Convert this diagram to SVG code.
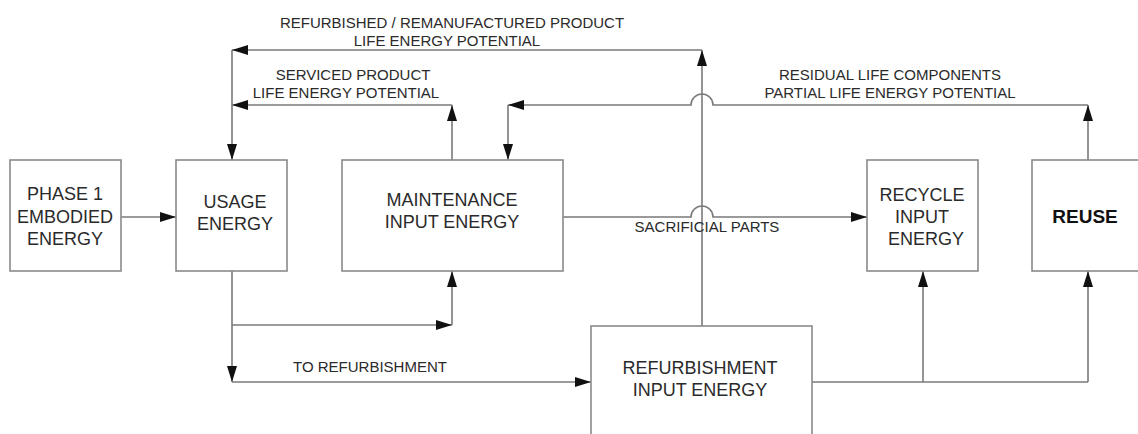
<svg xmlns="http://www.w3.org/2000/svg" width="1138" height="434" viewBox="0 0 1138 434">
  <style>
    .box { fill: #ffffff; stroke: #8a8a8a; stroke-width: 1.6; }
    .lbl { font-family: "Liberation Sans", Arial, sans-serif; font-size: 18px; fill: #2a2a2a; text-anchor: middle; }
    .bold { font-weight: bold; fill: #111111; font-size: 19px; }
    .note { font-family: "Liberation Sans", Arial, sans-serif; font-size: 15px; fill: #2a2a2a; text-anchor: middle; }
    .wire { fill: none; stroke: #7a7a7a; stroke-width: 1.6; }
    .arr { marker-end: url(#head); }
  </style>
  <defs>
    <marker id="head" markerUnits="userSpaceOnUse" markerWidth="16" markerHeight="10" refX="16" refY="5" orient="auto">
      <path d="M0,0 L16,5 L0,10 Z" fill="#111111"/>
    </marker>
  </defs>
  <rect width="1138" height="434" fill="#ffffff"/>

  <!-- connectors -->
  <g id="connectors">
    <!-- phase 1 into usage -->
    <path class="wire arr" d="M121,217 H176"/>
    <!-- usage down towards refurbishment -->
    <path class="wire arr" d="M232,271 V382"/>
    <path class="wire arr" d="M232,382 H591"/>
    <!-- usage branch into maintenance -->
    <path class="wire arr" d="M232,325 H452"/>
    <path class="wire arr" d="M452,325 V271"/>
    <!-- serviced product loop -->
    <path class="wire arr" d="M452,160 V105"/>
    <path class="wire arr" d="M452,105 H232"/>
    <!-- feedback into usage -->
    <path class="wire arr" d="M232,50 V160"/>
    <!-- refurbished / remanufactured loop -->
    <path class="wire arr" d="M702,326 V50"/>
    <path class="wire arr" d="M702,50 H232"/>
    <!-- residual life components loop, hopping the refurbishment riser -->
    <path class="wire arr" d="M1088,160 V105"/>
    <path class="wire arr" d="M1088,105 H713 A11,11 0 0 0 691,105 H508"/>
    <path class="wire arr" d="M508,105 V160"/>
    <!-- sacrificial parts, hopping the refurbishment riser -->
    <path class="wire arr" d="M563,217 H691 A11,11 0 0 1 713,217 H867"/>
    <!-- refurbishment outputs -->
    <path class="wire" d="M812,382 H1088"/>
    <path class="wire arr" d="M923,382 V271"/>
    <path class="wire arr" d="M1088,382 V271"/>
  </g>

  <!-- connector labels -->
  <g id="labels">
    <text class="note" x="452" y="28">REFURBISHED / REMANUFACTURED PRODUCT</text>
    <text class="note" x="447" y="46">LIFE ENERGY POTENTIAL</text>
    <text class="note" x="353" y="80">SERVICED PRODUCT</text>
    <text class="note" x="346" y="98">LIFE ENERGY POTENTIAL</text>
    <text class="note" x="890" y="80">RESIDUAL LIFE COMPONENTS</text>
    <text class="note" x="890" y="98">PARTIAL LIFE ENERGY POTENTIAL</text>
    <text class="note" x="707" y="232">SACRIFICIAL PARTS</text>
    <text class="note" x="370" y="372">TO REFURBISHMENT</text>
  </g>

  <g id="phase1">
    <rect class="box" x="10" y="160" width="111" height="111"/>
    <text class="lbl" x="65" y="200">PHASE 1</text>
    <text class="lbl" x="65" y="223">EMBODIED</text>
    <text class="lbl" x="65" y="245">ENERGY</text>
  </g>

  <g id="usage">
    <rect class="box" x="176" y="160" width="111" height="111"/>
    <text class="lbl" x="235" y="208">USAGE</text>
    <text class="lbl" x="235" y="230">ENERGY</text>
  </g>

  <g id="maintenance">
    <rect class="box" x="342" y="160" width="221" height="111"/>
    <text class="lbl" x="452" y="206">MAINTENANCE</text>
    <text class="lbl" x="452" y="228">INPUT ENERGY</text>
  </g>

  <g id="recycle">
    <rect class="box" x="867" y="160" width="111" height="111"/>
    <text class="lbl" x="922" y="201">RECYCLE</text>
    <text class="lbl" x="922" y="223">INPUT</text>
    <text class="lbl" x="926" y="245">ENERGY</text>
  </g>

  <g id="reuse">
    <rect class="box" x="1032" y="160" width="130" height="111"/>
    <text class="lbl bold" x="1085" y="223">REUSE</text>
  </g>

  <g id="refurbishment">
    <rect class="box" x="591" y="326" width="221" height="140"/>
    <text class="lbl" x="700" y="374">REFURBISHMENT</text>
    <text class="lbl" x="700" y="396">INPUT ENERGY</text>
  </g>
</svg>
